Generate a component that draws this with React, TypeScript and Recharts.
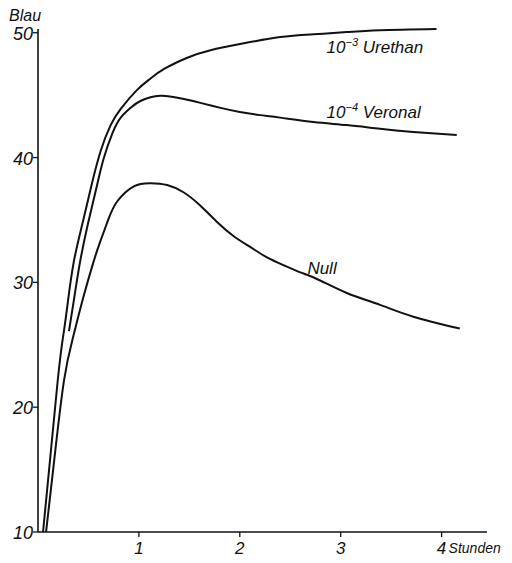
import React from "react";
import { LineChart, Line, XAxis, YAxis, ReferenceDot } from "recharts";

// hours after start, blue value
const urethanH = [0.05, 0.195, 0.257, 0.297, 0.356, 0.443, 0.525, 0.62, 0.72, 0.82, 0.98, 1.11, 1.25, 1.48, 1.71, 2.04, 2.4, 2.73, 3.06, 3.39, 3.95];
const urethanV = [10, 22.1, 26.1, 28.5, 31.7, 34.8, 37.6, 40.5, 42.6, 43.9, 45.4, 46.3, 47.1, 48.0, 48.6, 49.15, 49.65, 49.87, 50.05, 50.2, 50.3];

const veronalH = [0.307, 0.356, 0.416, 0.495, 0.574, 0.65, 0.74, 0.82, 0.92, 1.02, 1.21, 1.41, 1.6, 1.8, 2.0, 2.2, 2.4, 2.73, 3.06, 3.39, 3.72, 4.15];
const veronalV = [26.1, 28.6, 31.6, 34.7, 37.4, 39.9, 42.0, 43.2, 44.0, 44.55, 44.95, 44.75, 44.4, 44.0, 43.65, 43.4, 43.2, 42.85, 42.6, 42.3, 42.05, 41.8];

const nullH = [0.08, 0.16, 0.257, 0.347, 0.446, 0.545, 0.614, 0.7, 0.786, 0.95, 1.117, 1.28, 1.446, 1.61, 1.78, 1.94, 2.11, 2.27, 2.44, 2.6, 2.77, 3.06, 3.39, 3.72, 4.18];
const nullV = [10, 15.7, 22.1, 25.6, 28.7, 31.5, 33.2, 35.1, 36.5, 37.7, 37.95, 37.8, 37.2, 36.14, 34.8, 33.7, 32.8, 32.0, 31.35, 30.8, 30.25, 29.15, 28.2, 27.25, 26.3];

const xTicks = [1, 2, 3, 4];
const yTicks = [10, 20, 30, 40, 50];

const toRows = (hs: number[], vs: number[]) => hs.map((h, i) => ({ h, v: vs[i] }));

const FONT = "'Liberation Sans', 'DejaVu Sans', sans-serif";
const ink = "#111";

function YTick(props: any) {
  const { x, y, payload } = props;
  return (
    <g>
      <text x={x + 2} y={y + 1} textAnchor="end" dominantBaseline="central" fontSize={18} fontStyle="italic" fontFamily={FONT} fill={ink}>
        {payload.value}
      </text>
      {payload.value === 50 && (
        <text x={9} y={13} fontSize={16} fontStyle="italic" fontFamily={FONT} fill={ink}>
          Blau
        </text>
      )}
    </g>
  );
}

function XTick(props: any) {
  const { x, y, payload } = props;
  return (
    <g>
      <text x={x} y={y + 9} textAnchor="middle" dominantBaseline="central" fontSize={17} fontStyle="italic" fontFamily={FONT} fill={ink}>
        {payload.value}
      </text>
      {payload.value === 4 && (
        <text x={x + 7} y={y + 9} dominantBaseline="central" fontSize={14} fontStyle="italic" fontFamily={FONT} fill={ink}>
          Stunden
        </text>
      )}
    </g>
  );
}

function curveLabel(base: string, sup: string, name: string) {
  return (props: any) => {
    const vb = props.viewBox || {};
    const x = (vb.x ?? 0) + (vb.width ?? 0) / 2;
    const y = (vb.y ?? 0) + (vb.height ?? 0) / 2;
    return (
      <text x={x} y={y} fontSize={17} fontStyle="italic" fontFamily={FONT} fill={ink}>
        {base}
        {sup && (
          <tspan dy={-7} fontSize={11}>
            {sup}
          </tspan>
        )}
        <tspan dy={sup ? 7 : 0}>{(base ? " " : "") + name}</tspan>
      </text>
    );
  };
}

export default function App() {
  return (
    <div style={{ width: 512, height: 555, marginLeft: -8, marginBottom: -8, overflow: "hidden", background: "#fff" }}>
      <LineChart width={512} height={555} margin={{ top: 21, right: 25, left: 8, bottom: 0 }}>
        <XAxis
          dataKey="h"
          type="number"
          domain={[0, 4.45]}
          ticks={xTicks}
          tickSize={5}
          height={31}
          axisLine={{ stroke: ink, strokeWidth: 1.3 }}
          tickLine={{ stroke: ink, strokeWidth: 1.3 }}
          tick={<XTick />}
          allowDuplicatedCategory={false}
        />
        <YAxis
          type="number"
          domain={[10, 50]}
          ticks={yTicks}
          tickSize={5}
          width={30}
          axisLine={{ stroke: ink, strokeWidth: 1.6 }}
          tickLine={{ stroke: ink, strokeWidth: 1.3 }}
          tick={<YTick />}
        />
        <Line data={toRows(urethanH, urethanV)} dataKey="v" type="natural" stroke={ink} strokeWidth={2} dot={false} isAnimationActive={false} />
        <Line data={toRows(veronalH, veronalV)} dataKey="v" type="natural" stroke={ink} strokeWidth={2} dot={false} isAnimationActive={false} />
        <Line data={toRows(nullH, nullV)} dataKey="v" type="natural" stroke={ink} strokeWidth={2} dot={false} isAnimationActive={false} />
        <ReferenceDot x={2.86} y={48.4} r={0} stroke="none" label={curveLabel("10", "−3", "Urethan")} />
        <ReferenceDot x={2.86} y={43.16} r={0} stroke="none" label={curveLabel("10", "−4", "Veronal")} />
        <ReferenceDot x={2.67} y={30.68} r={0} stroke="none" label={curveLabel("", "", "Null")} />
      </LineChart>
    </div>
  );
}
